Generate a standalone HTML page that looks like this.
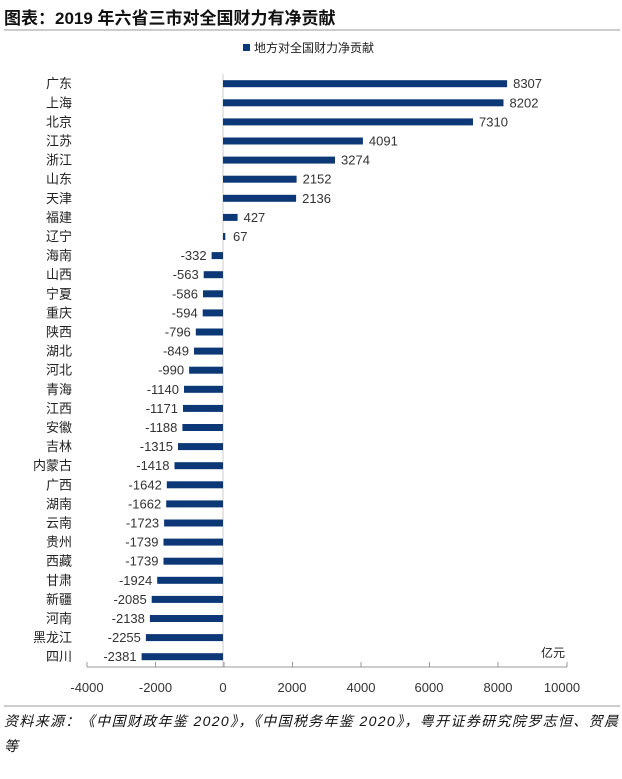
<!DOCTYPE html>
<html><head><meta charset="utf-8"><style>
html,body{margin:0;padding:0;background:#fff;width:622px;height:779px;overflow:hidden}
svg{display:block}
text{font-family:"Liberation Sans","Noto Sans CJK SC",sans-serif}
.l{font-size:13px;fill:#222;text-anchor:end}
.v{font-size:13px;fill:#333}
.n{font-size:13px;fill:#333;text-anchor:end}
</style></head><body>
<svg width="622" height="779" viewBox="0 0 622 779" xmlns="http://www.w3.org/2000/svg">
<text x="4" y="24" font-size="17" font-weight="bold" fill="#111">图表：2019 年六省三市对全国财力有净贡献</text>
<line x1="4" y1="30" x2="620" y2="30" stroke="#999" stroke-width="1"/>
<rect x="243" y="44" width="7" height="7" fill="#0d3878"/>
<text x="254" y="52" font-size="12" fill="#222">地方对全国财力净贡献</text>
<line x1="223" y1="74" x2="223" y2="667" stroke="#ccc" stroke-width="1"/>
<line x1="87" y1="667" x2="567" y2="667" stroke="#999" stroke-width="1"/>
<g stroke="#999" stroke-width="1">
<line x1="87" y1="662" x2="87" y2="667"/><line x1="155.5" y1="662" x2="155.5" y2="667"/><line x1="224" y1="662" x2="224" y2="667"/><line x1="292.5" y1="662" x2="292.5" y2="667"/><line x1="361" y1="662" x2="361" y2="667"/><line x1="429.5" y1="662" x2="429.5" y2="667"/><line x1="498" y1="662" x2="498" y2="667"/><line x1="567" y1="662" x2="567" y2="667"/>
</g>
<g font-size="13" fill="#333" text-anchor="middle">
<text x="87" y="692">-4000</text><text x="155.5" y="692">-2000</text><text x="223" y="692">0</text><text x="292" y="692">2000</text><text x="361" y="692">4000</text><text x="429" y="692">6000</text><text x="498" y="692">8000</text><text x="562" y="692">10000</text>
</g>
<text x="553" y="657" font-size="12" fill="#222" text-anchor="middle">亿元</text>
<g fill="#0d3878">
<g transform="translate(0,83.7)"><rect x="223" y="-3.5" width="284.1" height="7"/><text class="l" x="72" y="4.5">广东</text><text class="v" x="513.1" y="4.5">8307</text></g>
<g transform="translate(0,102.8)"><rect x="223" y="-3.5" width="280.5" height="7"/><text class="l" x="72" y="4.5">上海</text><text class="v" x="509.5" y="4.5">8202</text></g>
<g transform="translate(0,121.9)"><rect x="223" y="-3.5" width="250" height="7"/><text class="l" x="72" y="4.5">北京</text><text class="v" x="479" y="4.5">7310</text></g>
<g transform="translate(0,141)"><rect x="223" y="-3.5" width="139.9" height="7"/><text class="l" x="72" y="4.5">江苏</text><text class="v" x="368.9" y="4.5">4091</text></g>
<g transform="translate(0,160.1)"><rect x="223" y="-3.5" width="112" height="7"/><text class="l" x="72" y="4.5">浙江</text><text class="v" x="341" y="4.5">3274</text></g>
<g transform="translate(0,179.2)"><rect x="223" y="-3.5" width="73.6" height="7"/><text class="l" x="72" y="4.5">山东</text><text class="v" x="302.6" y="4.5">2152</text></g>
<g transform="translate(0,198.3)"><rect x="223" y="-3.5" width="73.1" height="7"/><text class="l" x="72" y="4.5">天津</text><text class="v" x="302.1" y="4.5">2136</text></g>
<g transform="translate(0,217.4)"><rect x="223" y="-3.5" width="14.6" height="7"/><text class="l" x="72" y="4.5">福建</text><text class="v" x="243.6" y="4.5">427</text></g>
<g transform="translate(0,236.5)"><rect x="223" y="-3.5" width="2.3" height="7"/><text class="l" x="72" y="4.5">辽宁</text><text class="v" x="233" y="4.5">67</text></g>
<g transform="translate(0,255.6)"><rect x="211.6" y="-3.5" width="11.4" height="7"/><text class="l" x="72" y="4.5">海南</text><text class="n" x="206.6" y="4.5">-332</text></g>
<g transform="translate(0,274.7)"><rect x="203.7" y="-3.5" width="19.3" height="7"/><text class="l" x="72" y="4.5">山西</text><text class="n" x="198.7" y="4.5">-563</text></g>
<g transform="translate(0,293.8)"><rect x="203" y="-3.5" width="20" height="7"/><text class="l" x="72" y="4.5">宁夏</text><text class="n" x="198" y="4.5">-586</text></g>
<g transform="translate(0,312.9)"><rect x="202.7" y="-3.5" width="20.3" height="7"/><text class="l" x="72" y="4.5">重庆</text><text class="n" x="197.7" y="4.5">-594</text></g>
<g transform="translate(0,332)"><rect x="195.8" y="-3.5" width="27.2" height="7"/><text class="l" x="72" y="4.5">陕西</text><text class="n" x="190.8" y="4.5">-796</text></g>
<g transform="translate(0,351.1)"><rect x="194" y="-3.5" width="29" height="7"/><text class="l" x="72" y="4.5">湖北</text><text class="n" x="189" y="4.5">-849</text></g>
<g transform="translate(0,370.2)"><rect x="189.1" y="-3.5" width="33.9" height="7"/><text class="l" x="72" y="4.5">河北</text><text class="n" x="184.1" y="4.5">-990</text></g>
<g transform="translate(0,389.3)"><rect x="184" y="-3.5" width="39" height="7"/><text class="l" x="72" y="4.5">青海</text><text class="n" x="179" y="4.5">-1140</text></g>
<g transform="translate(0,408.4)"><rect x="183" y="-3.5" width="40" height="7"/><text class="l" x="72" y="4.5">江西</text><text class="n" x="178" y="4.5">-1171</text></g>
<g transform="translate(0,427.5)"><rect x="182.4" y="-3.5" width="40.6" height="7"/><text class="l" x="72" y="4.5">安徽</text><text class="n" x="177.4" y="4.5">-1188</text></g>
<g transform="translate(0,446.6)"><rect x="178" y="-3.5" width="45" height="7"/><text class="l" x="72" y="4.5">吉林</text><text class="n" x="173" y="4.5">-1315</text></g>
<g transform="translate(0,465.7)"><rect x="174.5" y="-3.5" width="48.5" height="7"/><text class="l" x="72" y="4.5">内蒙古</text><text class="n" x="169.5" y="4.5">-1418</text></g>
<g transform="translate(0,484.8)"><rect x="166.8" y="-3.5" width="56.2" height="7"/><text class="l" x="72" y="4.5">广西</text><text class="n" x="161.8" y="4.5">-1642</text></g>
<g transform="translate(0,503.9)"><rect x="166.2" y="-3.5" width="56.8" height="7"/><text class="l" x="72" y="4.5">湖南</text><text class="n" x="161.2" y="4.5">-1662</text></g>
<g transform="translate(0,523)"><rect x="164.1" y="-3.5" width="58.9" height="7"/><text class="l" x="72" y="4.5">云南</text><text class="n" x="159.1" y="4.5">-1723</text></g>
<g transform="translate(0,542.1)"><rect x="163.5" y="-3.5" width="59.5" height="7"/><text class="l" x="72" y="4.5">贵州</text><text class="n" x="158.5" y="4.5">-1739</text></g>
<g transform="translate(0,561.2)"><rect x="163.5" y="-3.5" width="59.5" height="7"/><text class="l" x="72" y="4.5">西藏</text><text class="n" x="158.5" y="4.5">-1739</text></g>
<g transform="translate(0,580.3)"><rect x="157.2" y="-3.5" width="65.8" height="7"/><text class="l" x="72" y="4.5">甘肃</text><text class="n" x="152.2" y="4.5">-1924</text></g>
<g transform="translate(0,599.4)"><rect x="151.7" y="-3.5" width="71.3" height="7"/><text class="l" x="72" y="4.5">新疆</text><text class="n" x="146.7" y="4.5">-2085</text></g>
<g transform="translate(0,618.5)"><rect x="149.9" y="-3.5" width="73.1" height="7"/><text class="l" x="72" y="4.5">河南</text><text class="n" x="144.9" y="4.5">-2138</text></g>
<g transform="translate(0,637.6)"><rect x="145.9" y="-3.5" width="77.1" height="7"/><text class="l" x="72" y="4.5">黑龙江</text><text class="n" x="140.9" y="4.5">-2255</text></g>
<g transform="translate(0,656.7)"><rect x="141.6" y="-3.5" width="81.4" height="7"/><text class="l" x="72" y="4.5">四川</text><text class="n" x="136.6" y="4.5">-2381</text></g>
</g>
<line x1="4" y1="706" x2="620" y2="706" stroke="#999" stroke-width="1"/>
<text x="4" y="726" font-size="14" font-style="italic" fill="#111" textLength="614" lengthAdjust="spacing">资料来源：《中国财政年鉴 2020》，《中国税务年鉴 2020》，粤开证券研究院罗志恒、贺晨</text>
<text x="4" y="751" font-size="14" font-style="italic" fill="#111">等</text>
</svg>
</body></html>
